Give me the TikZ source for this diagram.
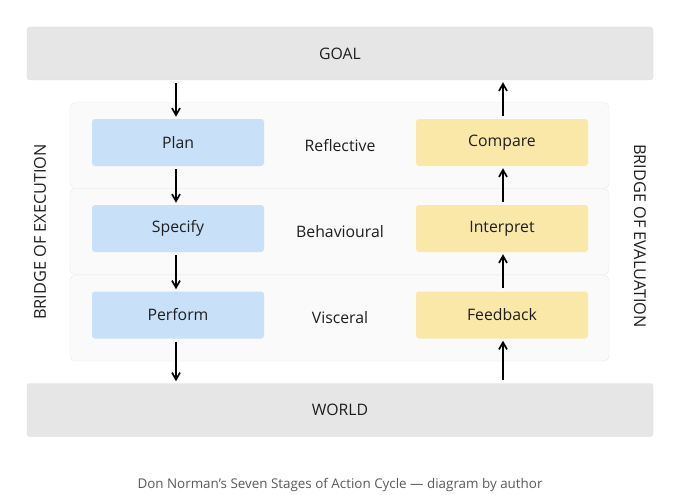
\documentclass[tikz,border=0pt]{standalone}
\usepackage{fontspec}
\setmainfont{Open Sans}
\usepackage{xcolor}
\usetikzlibrary{arrows.meta}

\definecolor{bargray}{HTML}{E6E6E6}
\definecolor{layerfill}{HTML}{FAFAFA}
\definecolor{layerline}{HTML}{E8E8E8}
\definecolor{execblue}{HTML}{C8E1F9}
\definecolor{evalyellow}{HTML}{FAE8A9}
\definecolor{inkgray}{HTML}{1E1E1E}

\begin{document}
\begin{tikzpicture}[x=1pt, y=-1pt,
  bar/.style={fill=bargray, draw=bargray!80!black!20!bargray, rounded corners=3pt,
    minimum width=626pt, minimum height=53pt, text=inkgray, font=\fontsize{15.8}{18}\selectfont},
  layer/.style={fill=layerfill, draw=layerline, rounded corners=5pt,
    minimum width=539pt, minimum height=86pt},
  stage/.style={rounded corners=3pt, minimum width=172pt, minimum height=47pt,
    text=inkgray, font=\fontsize{15.8}{18}\selectfont},
  exec/.style={stage, fill=execblue},
  eval/.style={stage, fill=evalyellow},
  level/.style={text=inkgray, font=\fontsize{15.8}{18}\selectfont},
  bridge/.style={text=inkgray, font=\fontsize{16.3}{18}\selectfont},
  flow/.style={-{Straight Barb[length=7pt,width=8pt]}, line width=1.7pt, shorten >=2pt, shorten <=3pt}]
  \useasboundingbox (0,0) rectangle (680,495);

  % Nodes
  \node[bar] (goal) at (340,53.5) {GOAL};
  \node[bar] (world) at (340,410) {WORLD};

  \node[layer] (reflective) at (339.5,145.5) {};
  \node[layer] (behavioural) at (339.5,231.5) {};
  \node[layer] (visceral) at (339.5,318) {};

  \node[level] at (340,146) {Reflective};
  \node[level] at (340,232) {Behavioural};
  \node[level] at (340,318) {Visceral};

  \node[exec] (plan) at (178,142.5) {Plan};
  \node[exec] (specify) at (178,228.5) {Specify};
  \node[exec] (perform) at (178,315) {Perform};

  \node[eval] (compare) at (502,142.5) {Compare};
  \node[eval] (interpret) at (502,228.5) {Interpret};
  \node[eval] (feedback) at (502,315) {Feedback};

  \node[bridge, rotate=90] (execution) at (40,232) {BRIDGE OF EXECUTION};
  \node[bridge, rotate=-90] (evaluation) at (640,236) {BRIDGE OF EVALUATION};

  \node[text=black!65, font=\fontsize{13.4}{15}\selectfont] (caption) at (340,485)
    {Don Norman’s Seven Stages of Action Cycle — diagram by author};

  % Edges
  \draw[flow] (goal.south -| 176,0) -- (plan.north -| 176,0);
  \draw[flow] (plan.south -| 176,0) -- (specify.north -| 176,0);
  \draw[flow] (specify.south -| 176,0) -- (perform.north -| 176,0);
  \draw[flow] (perform.south -| 176,0) -- (world.north -| 176,0);

  \draw[flow] (world.north -| 503,0) -- (feedback.south -| 503,0);
  \draw[flow] (feedback.north -| 503,0) -- (interpret.south -| 503,0);
  \draw[flow] (interpret.north -| 503,0) -- (compare.south -| 503,0);
  \draw[flow] (compare.north -| 503,0) -- (goal.south -| 503,0);
\end{tikzpicture}
\end{document}
